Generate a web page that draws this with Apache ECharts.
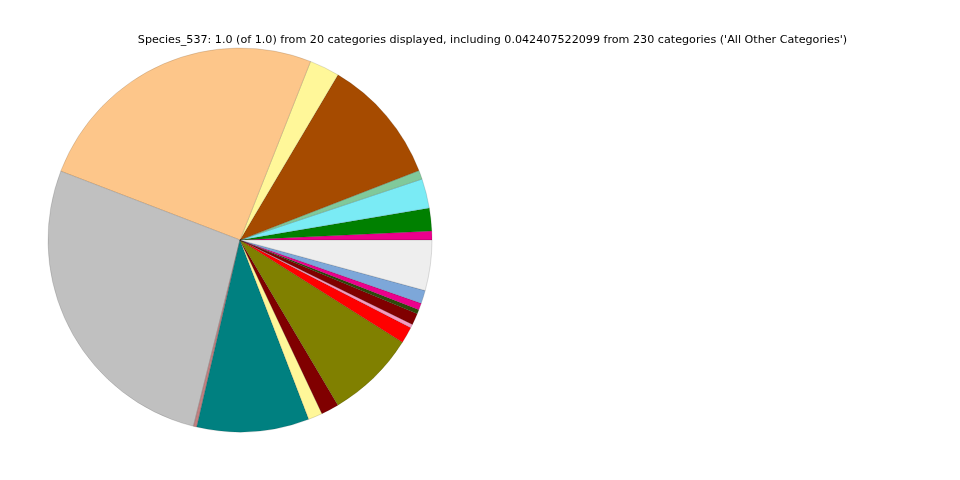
<!DOCTYPE html>
<html>
<head>
<meta charset="utf-8">
<script src="https://cdn.jsdelivr.net/npm/echarts@6/dist/echarts.min.js"></script>
<style>html,body{margin:0;padding:0;background:#fff;}#c{width:960px;height:480px;}</style>
</head>
<body>
<div id="c"></div>
<script>
const categories = ["Cat_1","Cat_2","Cat_3","Cat_4","Cat_5","Cat_6","Cat_7","Cat_8","Cat_9","Cat_10","Cat_11","Cat_12","Cat_13","Cat_14","Cat_15","Cat_16","Cat_17","Cat_18","Cat_19","All Other Categories"];
const values = [0.0075,0.0192,0.0247,0.0075,0.1058,0.0253,0.2514,0.2692,0.0028,0.0944,0.0119,0.0150,0.0753,0.0139,0.0031,0.0097,0.0036,0.0056,0.0111,0.0424];
const colors = ["#ec008c","#008000","#7aebf5","#80c99b","#a64b00","#fff799","#fdc68a","#c0c0c0","#c08081","#008080","#fff799","#800000","#808000","#ff0000","#f49ac2","#800000","#2e4a0a","#ec008c","#7da7d9","#eeeeee"];
const titleText = "Species_537: 1.0 (of 1.0) from 20 categories displayed, including 0.042407522099 from 230 categories ('All Other Categories')";

const chart = echarts.init(document.getElementById('c'), null, {renderer:'canvas'});
chart.setOption({
  animation:false,
  backgroundColor:'#ffffff',
  title:{text:titleText,left:487.5,top:30,textAlign:'center',textStyle:{fontFamily:'DejaVu Sans',fontSize:11.15,fontWeight:'normal',color:'#000'}},
  series:[{
    type:'pie',
    center:[240,240],
    radius:[0,192],
    startAngle:0,
    clockwise:false,
    avoidLabelOverlap:false,
    label:{show:false},
    labelLine:{show:false},
    emphasis:{disabled:true},
    itemStyle:{borderColor:'rgba(0,0,0,0.25)',borderWidth:0.5},
    data:categories.map((c,i)=>({name:c,value:values[i],itemStyle:{color:colors[i]}}))
  }]
});
</script>
</body>
</html>
